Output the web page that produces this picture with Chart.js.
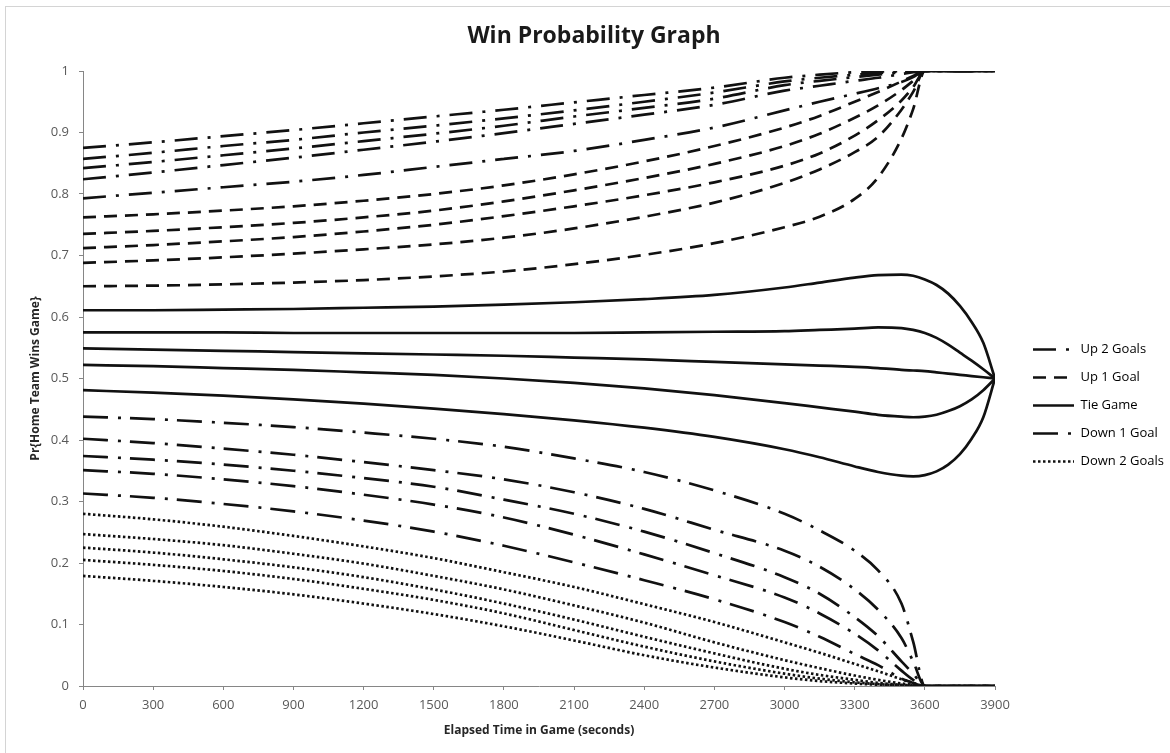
<!DOCTYPE html>
<html>
<head>
<meta charset="utf-8">
<title>Win Probability Graph</title>
<script src="https://cdn.jsdelivr.net/npm/chart.js@4"></script>
<style>
    html, body { margin: 0; padding: 0; background: #fff; overflow: hidden; }
    #frame {
        position: absolute; left: 5px; top: 6px;
        width: 1200px; height: 800px;
        border: 1px solid #d4d4d4;
    }
    #wrap { position: absolute; left: 0; top: 0; width: 1170px; height: 753px; }
</style>
</head>
<body>
<div id="frame"></div>
<div id="wrap"><canvas id="winChart" width="1170" height="753"></canvas></div>
<script>
// Elapsed time (seconds) for every sampled point
const elapsed = [0, 300, 600, 900, 1200, 1500, 1800, 2100, 2400, 2700, 3000, 3150, 3300, 3400, 3500, 3550, 3600, 3650, 3700, 3750, 3800, 3850, 3900];

// Up 2 Goals
const up2a = [0.875, 0.884, 0.894, 0.904, 0.915, 0.926, 0.937, 0.949, 0.961, 0.973, 0.989, 0.994, 0.998, 0.999, 1, 1, 1, 1, 1, 1, 1, 1, 1];
const up2b = [0.857, 0.867, 0.878, 0.888, 0.900, 0.911, 0.923, 0.936, 0.950, 0.965, 0.983, 0.989, 0.994, 0.997, 0.999, 1, 1, 1, 1, 1, 1, 1, 1];
const up2c = [0.842, 0.852, 0.863, 0.874, 0.886, 0.898, 0.911, 0.926, 0.940, 0.955, 0.977, 0.984, 0.990, 0.994, 0.998, 0.999, 1, 1, 1, 1, 1, 1, 1];
const up2d = [0.824, 0.835, 0.847, 0.859, 0.872, 0.885, 0.899, 0.914, 0.929, 0.945, 0.968, 0.976, 0.984, 0.989, 0.995, 0.998, 1, 1, 1, 1, 1, 1, 1];
const up2e = [0.793, 0.802, 0.811, 0.820, 0.831, 0.844, 0.857, 0.870, 0.888, 0.908, 0.936, 0.950, 0.963, 0.972, 0.982, 0.990, 1, 1, 1, 1, 1, 1, 1];

// Up 1 Goal
const up1a = [0.762, 0.767, 0.773, 0.780, 0.789, 0.800, 0.814, 0.832, 0.853, 0.878, 0.908, 0.927, 0.950, 0.966, 0.983, 0.992, 1, 1, 1, 1, 1, 1, 1];
const up1b = [0.735, 0.740, 0.746, 0.753, 0.762, 0.773, 0.788, 0.806, 0.826, 0.849, 0.878, 0.898, 0.924, 0.944, 0.969, 0.984, 1, 1, 1, 1, 1, 1, 1];
const up1c = [0.712, 0.717, 0.723, 0.730, 0.739, 0.750, 0.764, 0.780, 0.798, 0.819, 0.846, 0.866, 0.895, 0.920, 0.952, 0.974, 1, 1, 1, 1, 1, 1, 1];
const up1d = [0.688, 0.692, 0.697, 0.703, 0.710, 0.718, 0.729, 0.744, 0.763, 0.786, 0.818, 0.840, 0.868, 0.893, 0.937, 0.966, 1, 1, 1, 1, 1, 1, 1];
const up1e = [0.650, 0.651, 0.653, 0.656, 0.660, 0.666, 0.674, 0.686, 0.701, 0.720, 0.746, 0.763, 0.792, 0.827, 0.890, 0.938, 1, 1, 1, 1, 1, 1, 1];

// Tie Game
const tieA = [0.611, 0.611, 0.612, 0.613, 0.615, 0.617, 0.620, 0.624, 0.629, 0.636, 0.648, 0.656, 0.664, 0.668, 0.669, 0.667, 0.661, 0.652, 0.638, 0.618, 0.592, 0.558, 0.5];
const tieB = [0.575, 0.575, 0.575, 0.574, 0.574, 0.574, 0.574, 0.574, 0.575, 0.576, 0.577, 0.579, 0.581, 0.583, 0.582, 0.579, 0.574, 0.566, 0.555, 0.542, 0.529, 0.515, 0.5];
const tieC = [0.549, 0.547, 0.545, 0.543, 0.541, 0.539, 0.537, 0.534, 0.531, 0.527, 0.523, 0.521, 0.519, 0.517, 0.514, 0.513, 0.512, 0.510, 0.508, 0.506, 0.504, 0.502, 0.5];
const tieD = [0.522, 0.520, 0.517, 0.514, 0.510, 0.506, 0.500, 0.493, 0.484, 0.473, 0.460, 0.453, 0.446, 0.441, 0.438, 0.437, 0.438, 0.441, 0.447, 0.455, 0.466, 0.481, 0.5];
const tieE = [0.481, 0.477, 0.472, 0.466, 0.459, 0.451, 0.442, 0.432, 0.420, 0.405, 0.385, 0.372, 0.357, 0.348, 0.342, 0.341, 0.343, 0.349, 0.360, 0.377, 0.402, 0.437, 0.5];

// Down 1 Goal
const down1a = [0.438, 0.434, 0.428, 0.421, 0.412, 0.402, 0.389, 0.370, 0.348, 0.318, 0.280, 0.253, 0.220, 0.188, 0.134, 0.072, 0, 0, 0, 0, 0, 0, 0];
const down1b = [0.402, 0.395, 0.386, 0.376, 0.364, 0.351, 0.336, 0.315, 0.288, 0.254, 0.220, 0.194, 0.157, 0.124, 0.078, 0.040, 0, 0, 0, 0, 0, 0, 0];
const down1c = [0.374, 0.368, 0.360, 0.350, 0.338, 0.324, 0.303, 0.280, 0.251, 0.216, 0.177, 0.150, 0.112, 0.081, 0.040, 0.020, 0, 0, 0, 0, 0, 0, 0];
const down1d = [0.351, 0.345, 0.336, 0.325, 0.311, 0.295, 0.274, 0.246, 0.214, 0.180, 0.144, 0.118, 0.085, 0.058, 0.025, 0.010, 0, 0, 0, 0, 0, 0, 0];
const down1e = [0.313, 0.306, 0.296, 0.284, 0.269, 0.251, 0.228, 0.201, 0.172, 0.141, 0.104, 0.080, 0.052, 0.034, 0.012, 0.005, 0, 0, 0, 0, 0, 0, 0];

// Down 2 Goals
const down2a = [0.280, 0.271, 0.259, 0.244, 0.227, 0.208, 0.185, 0.161, 0.133, 0.104, 0.071, 0.054, 0.036, 0.024, 0.011, 0.005, 0, 0, 0, 0, 0, 0, 0];
const down2b = [0.247, 0.239, 0.229, 0.215, 0.199, 0.179, 0.157, 0.131, 0.103, 0.071, 0.042, 0.029, 0.017, 0.010, 0.004, 0.002, 0, 0, 0, 0, 0, 0, 0];
const down2c = [0.225, 0.217, 0.206, 0.193, 0.177, 0.157, 0.134, 0.108, 0.080, 0.053, 0.028, 0.018, 0.010, 0.005, 0.002, 0.001, 0, 0, 0, 0, 0, 0, 0];
const down2d = [0.205, 0.197, 0.187, 0.174, 0.158, 0.140, 0.118, 0.091, 0.064, 0.040, 0.020, 0.012, 0.006, 0.003, 0.001, 0, 0, 0, 0, 0, 0, 0, 0];
const down2e = [0.179, 0.171, 0.161, 0.149, 0.134, 0.117, 0.097, 0.074, 0.050, 0.030, 0.014, 0.008, 0.004, 0.002, 0.001, 0, 0, 0, 0, 0, 0, 0, 0];

const groupNames = ['Up 2 Goals', 'Up 1 Goal', 'Tie Game', 'Down 1 Goal', 'Down 2 Goals'];
const yTicks = [0, 0.1, 0.2, 0.3, 0.4, 0.5, 0.6, 0.7, 0.8, 0.9, 1];

// line style per group (Excel-like dash patterns)
const groups = [
    { name: groupNames[0], dash: [23, 10, 3, 10], series: [up2a, up2b, up2c, up2d, up2e] },
    { name: groupNames[1], dash: [13, 8], series: [up1a, up1b, up1c, up1d, up1e] },
    { name: groupNames[2], dash: [], series: [tieA, tieB, tieC, tieD, tieE] },
    { name: groupNames[3], dash: [25, 10, 3, 9], series: [down1a, down1b, down1c, down1d, down1e] },
    { name: groupNames[4], dash: [2.5, 2.5], series: [down2a, down2b, down2c, down2d, down2e] }
];

const LINE = '#111111';
const LINE_WIDTH = 2.7;
const FONT = "'Open Sans', 'Noto Sans', sans-serif";

const datasets = [];
groups.forEach((g) => {
    g.series.forEach((values, si) => {
        datasets.push({
            label: g.name + ' ' + (si + 1),
            data: elapsed.map((t, i) => ({ x: t, y: values[i] })),
            borderColor: LINE,
            borderWidth: LINE_WIDTH,
            borderDash: g.dash,
            borderCapStyle: 'butt',
            pointRadius: 0,
            fill: false,
            cubicInterpolationMode: 'monotone'
        });
    });
});

// Move the legend and title into the spots Excel uses
const placeBlocks = {
    id: 'placeBlocks',
    afterLayout(chart) {
        const lg = chart.legend;
        if (lg) {
            lg.left = 1018;
            lg.right = 1170;
            lg.top = 328;
            lg.bottom = 540;
        }
        const tb = chart.titleBlock;
        if (tb) {
            tb.left = 20;
            tb.right = 1168;
        }
    }
};

new Chart(document.getElementById('winChart'), {
    type: 'line',
    data: { datasets },
    plugins: [placeBlocks],
    options: {
        responsive: false,
        animation: false,
        devicePixelRatio: 1,
        layout: { padding: { left: 20, top: 10, right: 55, bottom: 10 } },
        plugins: {
            title: {
                display: true,
                text: 'Win Probability Graph',
                color: '#1a1a1a',
                font: { family: FONT, size: 23, weight: 'bold' },
                padding: { top: 13, bottom: 20.4 }
            },
            legend: {
                position: 'right',
                align: 'start',
                maxWidth: 120,
                labels: {
                    usePointStyle: true,
                    pointStyleWidth: 41,
                    padding: 15,
                    color: '#404040',
                    font: { family: FONT, size: 13 },
                    generateLabels: () => groups.map((g, gi) => ({
                        text: g.name,
                        pointStyle: 'line',
                        strokeStyle: LINE,
                        fillStyle: LINE,
                        lineWidth: LINE_WIDTH,
                        lineDash: g.dash,
                        lineCap: 'butt',
                        hidden: false,
                        datasetIndex: gi * 5
                    }))
                }
            },
            tooltip: { enabled: false }
        },
        scales: {
            x: {
                type: 'linear',
                min: 0,
                max: 3900,
                afterFit: (scale) => { scale.height = 57; },
                ticks: {
                    stepSize: 300,
                    autoSkip: false,
                    maxRotation: 0,
                    padding: 7,
                    color: '#595959',
                    font: { family: FONT, size: 13 },
                    callback: (v) => String(v)
                },
                grid: { drawOnChartArea: false, drawTicks: true, tickLength: 4, color: '#868686' },
                border: { color: '#868686', width: 1 },
                title: {
                    display: true,
                    text: 'Elapsed Time in Game (seconds)',
                    color: '#262626',
                    font: { family: FONT, size: 12, weight: 'bold' },
                    padding: { top: 4, bottom: 5 }
                }
            },
            y: {
                min: 0,
                max: 1,
                afterFit: (scale) => { scale.width = 63; },
                afterBuildTicks: (scale) => { scale.ticks = yTicks.map(v => ({ value: v })); },
                ticks: {
                    padding: 10,
                    color: '#595959',
                    font: { family: FONT, size: 13 },
                    callback: (v) => String(Math.round(v * 10) / 10)
                },
                grid: { drawOnChartArea: false, drawTicks: true, tickLength: 4, color: '#868686' },
                border: { color: '#868686', width: 1 },
                title: {
                    display: true,
                    text: 'Pr{Home Team Wins Game}',
                    color: '#262626',
                    font: { family: FONT, size: 12, weight: 'bold' },
                    padding: { top: 8, bottom: 4 }
                }
            }
        }
    }
});
</script>
</body>
</html>
